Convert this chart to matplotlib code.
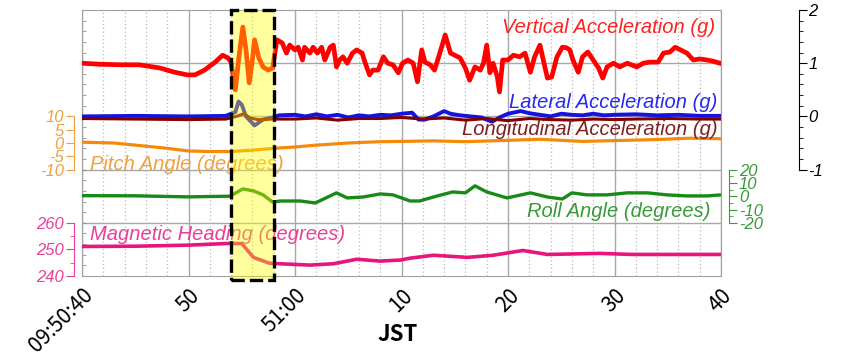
import numpy as np
import matplotlib.pyplot as plt
from matplotlib.patches import Rectangle
from matplotlib.ticker import MultipleLocator, FixedLocator

plt.rcParams['axes.unicode_minus'] = False

# seconds after 09:50:40 JST
vert_t = [0.0, 1.7, 3.6, 5.4, 7.3, 8.7, 9.9, 10.6, 11.5, 12.5, 13.2, 13.7, 14.0, 14.4, 14.7, 15.1,
          15.4, 15.7, 16.0, 16.2, 16.6, 17.0, 17.5, 17.9, 18.3, 18.8, 19.2, 19.5, 20.0, 20.3, 20.7,
          20.9, 21.4, 21.7, 22.1, 22.5, 22.8, 23.3, 23.6, 23.9, 24.2, 24.5, 24.9, 25.4, 25.8, 26.3,
          26.6, 27.0, 27.3, 27.8, 28.3, 28.7, 29.2, 29.7, 30.1, 30.6, 31.1, 31.5, 31.9, 32.2, 32.7,
          33.1, 33.6, 34.1, 34.6, 35.0, 35.5, 36.0, 36.4, 36.9, 37.4, 37.7, 38.0, 38.3, 38.6, 39.0,
          39.2, 39.5, 40.0, 40.5, 41.1, 41.6, 42.1, 42.5, 43.0, 43.7, 44.1, 44.6, 45.1, 45.5, 45.8,
          46.1, 46.6, 47.0, 47.5, 48.0, 48.5, 48.9, 49.3, 49.9, 50.5, 51.2, 52.1, 52.7, 53.3, 54.1,
          54.6, 55.2, 55.7, 56.2, 56.8, 57.4, 58.0, 58.7, 59.2, 59.9]
vert_g = [1.00, 0.98, 0.97, 0.97, 0.91, 0.83, 0.78, 0.78, 0.87, 1.02, 1.15, 1.10, 1.02, 0.50, 1.06, 1.68,
          1.25, 0.63, 1.06, 1.44, 1.10, 0.93, 0.87, 0.91, 1.44, 1.38, 1.19, 1.34, 1.25, 1.30, 1.06,
          1.30, 1.19, 1.30, 1.19, 1.30, 1.06, 1.30, 1.34, 0.93, 1.06, 1.12, 1.00, 1.19, 1.25, 1.19,
          1.00, 0.78, 0.87, 0.87, 1.12, 1.00, 0.97, 0.82, 1.00, 1.06, 1.00, 0.65, 1.25, 1.02, 0.97,
          0.87, 1.19, 1.53, 1.19, 1.15, 1.10, 0.91, 0.68, 0.93, 0.87, 1.00, 1.34, 0.82, 1.00, 0.74,
          0.46, 1.06, 1.06, 1.15, 1.12, 1.19, 0.83, 1.12, 1.34, 0.72, 0.74, 1.12, 1.30, 1.29, 1.25,
          1.06, 0.83, 1.12, 1.21, 1.06, 0.91, 0.72, 0.93, 1.00, 0.93, 1.00, 0.93, 1.00, 1.02, 1.02,
          1.19, 1.21, 1.30, 1.25, 1.19, 1.06, 1.08, 1.06, 1.04, 1.00]

lat_t = [0, 5, 10, 13.5, 14.0, 14.4, 14.7, 15.0, 15.4, 16.2, 17.0, 17.9, 18.5, 20, 21, 22, 23, 24, 25,
         26, 27, 28, 29, 30, 31, 31.6, 32.2, 33, 34, 34.6, 35.5, 36.5, 37.5, 38.5, 39.2, 40, 41.2,
         42, 43, 44, 45, 46, 47, 48, 49, 50, 52, 54, 56, 58, 60]
lat_g = [0.0, 0.01, 0.0, 0.01, 0.05, 0.08, 0.28, 0.22, 0.0, -0.17, -0.06, -0.02, 0.02, 0.03, 0.0, 0.04,
         0.0, 0.03, -0.02, 0.02, 0.0, 0.03, 0.02, 0.05, 0.07, -0.06, -0.06, 0.0, 0.1, 0.05, 0.02,
         0.0, -0.02, -0.1, -0.02, 0.05, 0.1, 0.06, 0.03, 0.0, 0.05, 0.03, 0.02, 0.05, 0.02, 0.03,
         0.04, 0.02, 0.03, 0.01, 0.01]

lon_t = [0, 5, 10, 13.5, 14.5, 15.2, 15.8, 16.5, 17.9, 20, 22, 24, 26, 28, 30, 32, 34, 36, 38, 40,
         42, 44, 46, 48, 50, 52, 55, 58, 60]
lon_g = [-0.04, -0.05, -0.06, -0.05, 0.0, 0.05, -0.03, -0.06, -0.05, -0.05, -0.03, -0.07, -0.04,
         -0.04, -0.02, -0.05, -0.03, -0.07, -0.04, -0.08, -0.04, -0.06, -0.07, -0.05, -0.06, -0.05,
         -0.04, -0.05, -0.05]

pitch_t = [0, 3, 5, 8, 10, 12, 14, 16, 18, 20, 22, 25, 28, 30, 33, 36, 40, 43, 45, 47, 50, 54, 57, 60]
pitch_deg = [0.3, 0.0, -0.8, -2.0, -3.0, -3.2, -3.2, -2.7, -2.0, -1.5, -0.8, 0.0, 0.5, 0.6, 0.8, 0.5,
             1.0, 1.4, 1.0, 0.6, 0.9, 1.3, 1.8, 1.6]

roll_t = [0, 5, 8, 10, 13.9, 15.1, 16.1, 17.0, 17.9, 18.6, 20.5, 21.9, 23.9, 24.9, 26.4, 28.0, 29.2,
          30.8, 31.7, 33.0, 34.8, 36.0, 36.9, 38.0, 39.9, 42.1, 43.7, 45.1, 46.0, 47.4, 49.3, 51.2,
          53.1, 54.9, 56.8, 58.7, 60]
roll_deg = [0.4, 0.3, -0.2, -0.5, 0.0, 5.5, 4.0, 1.0, -4.4, -3.6, -3.6, -5.1, 2.5, -1.3, -0.6, 1.7, 1.0,
            -3.6, -3.6, -0.6, 3.2, 2.5, 7.8, 3.2, -1.3, 2.5, -0.6, -2.1, 2.5, 1.0, 1.0, 2.5, 2.5, 1.0,
            0.2, 0.2, 1.0]

head_t = [0, 5, 10, 13.5, 15.0, 16.1, 17.6, 18.6, 21.4, 23.6, 25.8, 28.0, 29.9, 30.8, 33.0, 36.2,
          38.6, 41.4, 43.7, 48.6, 51.7, 60]
head_deg = [251.1, 251.2, 251.6, 252.2, 252.2, 247.0, 244.8, 244.6, 244.1, 244.6, 246.3, 245.6, 246.0,
            246.7, 247.8, 247.0, 247.8, 249.6, 248.1, 248.5, 248.1, 248.1]

time_ticks = [0, 10, 20, 30, 40, 50, 60]
time_labels = ['09:50:40', '50', '51:00', '10', '20', '30', '40']
event_start, event_end = 14, 18

fig = plt.figure(figsize=(8.48, 3.61), dpi=100)
ax = fig.add_axes([82 / 848, 85 / 361, 639 / 848, 266 / 361])
ax.set_xlim(0, 60)
ax.set_ylim(-3, 2)
ax.set_xticks(time_ticks)
ax.set_xticklabels(time_labels, rotation=45, ha='right', va='top', rotation_mode='anchor',
                   fontsize=15, family='Noto Sans CJK JP')
ax.xaxis.set_minor_locator(MultipleLocator(2))
ax.tick_params(axis='x', which='both', length=0, pad=6)
ax.set_yticks([-2, -1, 0, 1])
ax.set_yticklabels([])
ax.yaxis.set_minor_locator(MultipleLocator(0.2))
ax.tick_params(axis='y', which='both', direction='in', length=3, color='#909090',
               left=True, right=True)
ax.grid(which='major', color='#a8a8a8', lw=1.0)
ax.grid(which='minor', axis='x', color='#b8b8b8', lw=0.9, ls=(0, (1, 2)))
for s in ax.spines.values():
    s.set_color('#a0a0a0')
ax.set_xlabel('JST', fontsize=16, family='Noto Sans CJK JP', fontweight='bold')
ax.xaxis.set_label_coords(0.4945, -0.175)


def side_axis(ylim, side, offset, bounds, major, minor, color):
    a = ax.twinx()
    a.set_ylim(*ylim)
    for k in ['left', 'right', 'top', 'bottom']:
        a.spines[k].set_visible(False)
    if side == 'left':
        a.yaxis.tick_left()
    a.spines[side].set_visible(True)
    a.spines[side].set_position(('outward', offset))
    a.spines[side].set_bounds(*bounds)
    a.spines[side].set_color(color)
    a.set_yticks(major)
    minors = [v for v in np.arange(bounds[0], bounds[1] + minor / 2, minor)
              if min(abs(v - m) for m in major) > 1e-6]
    a.yaxis.set_minor_locator(FixedLocator(minors))
    a.tick_params(axis='y', which='major', length=6, color=color, labelcolor=color,
                  labelsize=12, pad=1)
    a.tick_params(axis='y', which='minor', length=3, color=color)
    for lab in a.get_yticklabels():
        lab.set_fontstyle('italic')
        lab.set_family('Liberation Sans')
    return a


acc = side_axis((-3, 2), 'right', 56, (-1, 2), [-1, 0, 1, 2], 0.2, 'black')
acc.plot(vert_t, vert_g, color='#ff0000', lw=3.4)
acc.plot(lat_t, lat_g, color='#1414dc', lw=2.8)
acc.plot(lon_t, lon_g, color='#800000', lw=2.2)

pit = side_axis((-50, 50), 'left', 6, (-10, 10), [-10, -5, 0, 5, 10], 5, '#f0a040')
pit.plot(pitch_t, pitch_deg, color='#f5890a', lw=2.3)

rol = side_axis((-60, 140), 'right', 6, (-20, 20), [-20, -10, 0, 10, 20], 5, '#3a9a3a')
rol.plot(roll_t, roll_deg, color='#178a17', lw=2.4)

hd = side_axis((240, 340), 'left', 6, (240, 260), [240, 250, 260], 5, '#e8409a')
hd.plot(head_t, head_deg, color='#e8157f', lw=2.6)

lab_font = dict(fontsize=14.5, fontstyle='italic', family='Liberation Sans', transform=hd.transAxes)
hd.text(0.991, 0.914, 'Vertical Acceleration (g)', color='#ff2020', ha='right', **lab_font)
hd.text(0.994, 0.632, 'Lateral Acceleration (g)', color='#2828f0', ha='right', **lab_font)
hd.text(0.994, 0.530, 'Longitudinal Acceleration (g)', color='#802020', ha='right', **lab_font)
hd.text(0.0125, 0.398, 'Pitch Angle (degrees)', color='#f0a040', ha='left', **lab_font)
hd.text(0.983, 0.222, 'Roll Angle (degrees)', color='#3a9a3a', ha='right', **lab_font)
hd.text(0.0125, 0.135, 'Magnetic Heading (degrees)', color='#e8409a', ha='left', **lab_font)

box = Rectangle((event_start, -0.016), event_end - event_start, 1.016,
                transform=hd.get_xaxis_transform(), facecolor=(1, 1, 0, 0.38),
                edgecolor='black', lw=2.4, ls=(0, (4, 1.5)), clip_on=False, zorder=5)
hd.add_patch(box)

fig.savefig('out.png', dpi=100)
